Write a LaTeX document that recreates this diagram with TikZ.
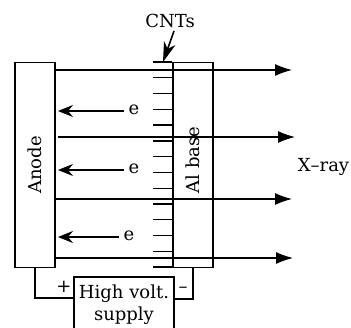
\documentclass[tikz,border=0pt]{standalone}
\usepackage{fontspec}
\setmainfont{DejaVu Serif}
\usetikzlibrary{arrows.meta,calc}
\tikzset{
  plate/.style={draw,line width=1.3pt,minimum width=40pt,minimum height=204.5pt,inner sep=0pt},
  wire/.style={line width=1.3pt},
  ray/.style={line width=1.2pt,-{Latex[length=17pt,width=12pt]}},
  electron/.style={line width=1.2pt,-{Stealth[length=15pt,width=12pt,inset=5pt]}},
  pointer/.style={line width=1.6pt,-{Stealth[length=20pt,width=12pt,inset=6pt]}},
  lbl/.style={font=\fontsize{18}{20}\selectfont,inner sep=0pt}
}
\begin{document}
\begin{tikzpicture}[x=1pt,y=-1pt]
  \useasboundingbox (0,0) rectangle (351,327);
  \clip (0,0) rectangle (351,327);

  % the two plates and the supply
  \node [plate,label={[lbl,rotate=90]center:Anode}] (anode) at (35,165) {};
  \node [plate] (base) at (193,165) {};
  \node [lbl,rotate=90] (baselabel) at (193,160) {Al base};
  \node [draw,line width=1.3pt,minimum width=100pt,minimum height=56pt,inner sep=0pt,
    align=center,font=\fontsize{18}{22}\selectfont] (supply) at (124,305) {High volt.\\supply};

  % the nanotubes on the base
  \foreach \i in {0,...,13}
    \draw [wire] (base.north west |- 0,62+15.77*\i) -- (153,62+15.77*\i);

  % wires to the supply
  \coordinate (plus) at (supply.west |- 0,298);
  \coordinate (minus) at (supply.east |- 0,299);
  \draw [wire] (anode.south) |- (plus);
  \draw [wire] (base.south) |- (minus);
  \node [lbl] (plussign) at (64,287) {+};
  \node [lbl] (minussign) at (183,290) {--};

  % X-rays
  \coordinate (r1) at (anode.east |- 0,70);
  \coordinate (r2) at (58,137);
  \coordinate (r3) at (anode.east |- 0,199);
  \coordinate (r4) at (anode.east |- 0,258);
  \draw [ray] (r1) -- (292,70);
  \draw [ray] (r2) -- (295,137);
  \draw [ray] (r3) -- (292,199);
  \draw [ray] (r4) -- (293,258);
  \node [lbl] (xray) at (323.5,167) {X--ray};

  % electrons
  \node [lbl] (e1) at (134,110) {e};
  \node [lbl] (e2) at (134,169) {e};
  \node [lbl] (e3) at (129,236) {e};
  \draw [electron] (e1.west |- 0,111) ++(-4,0) -- (58,111);
  \draw [electron] (e2.west |- 0,170) ++(-4,0) -- (58,170);
  \draw [electron] (e3.west |- 0,237) ++(-4,0) -- (58,237);

  % label of the nanotubes
  \node [lbl] (cnts) at (170,21) {CNTs};
  \coordinate (tube) at (163,62);
  \draw [pointer] (cnts.south) ++(4,3) -- (tube);
\end{tikzpicture}
\end{document}
